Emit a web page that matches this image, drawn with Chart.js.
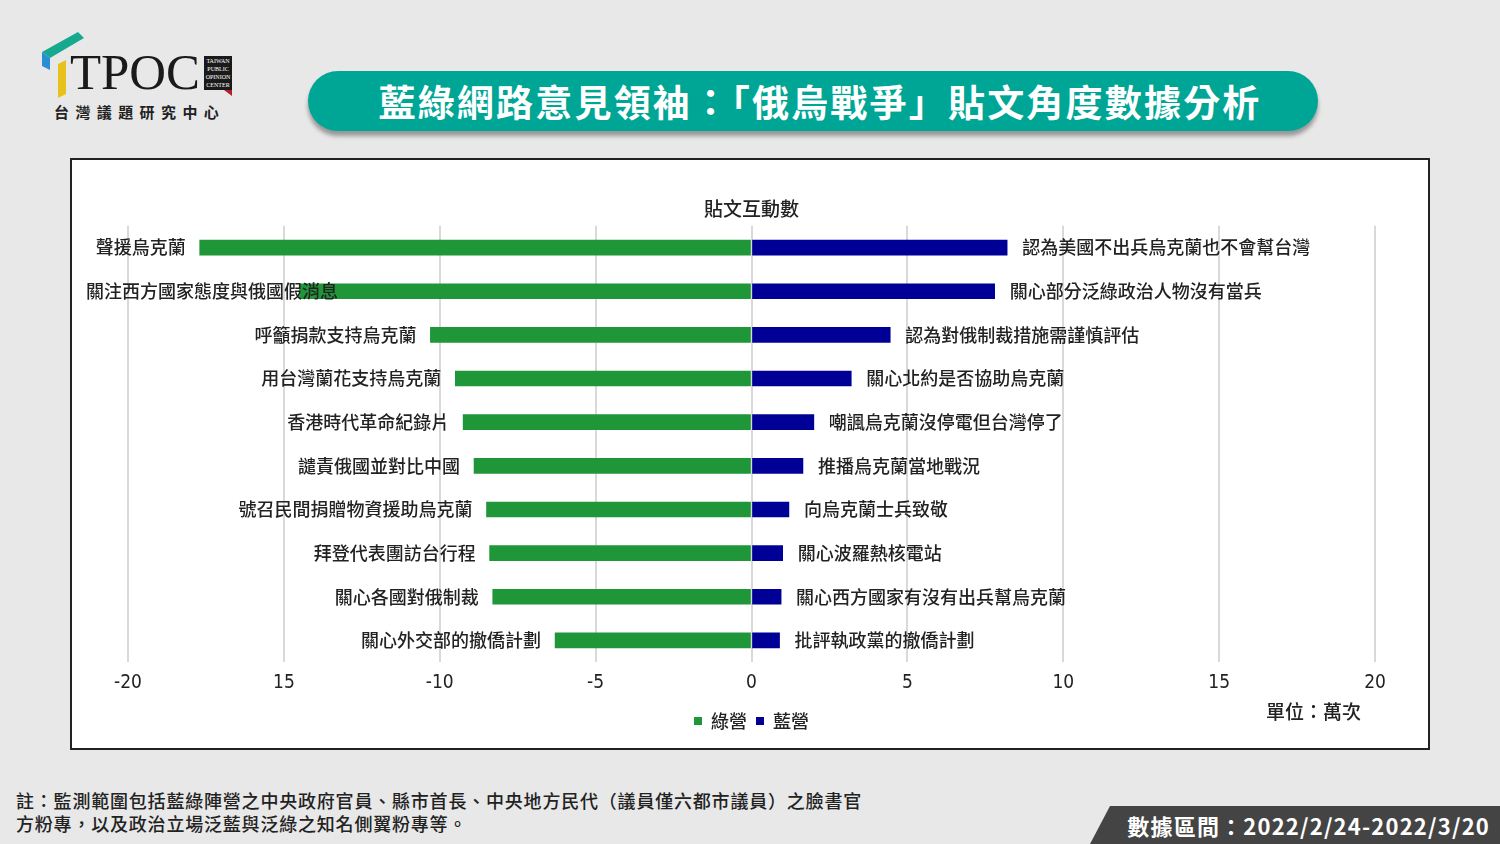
<!DOCTYPE html>
<html>
<head>
<meta charset="utf-8">
<script src="https://cdn.jsdelivr.net/npm/chart.js@4"></script>
<style>
  html, body { margin: 0; padding: 0; }
  body {
    width: 1500px; height: 844px; position: relative; overflow: hidden;
    background: #e8e8e8;
    font-family: "Noto Sans CJK TC", "Noto Sans", sans-serif;
    color: #222;
  }
  .banner {
    position: absolute; left: 308px; top: 71px; width: 1010px; height: 60px;
    background: #00a695; border-radius: 30px;
    box-shadow: 0 5px 4px rgba(0,0,0,0.35);
    color: #fff; font-weight: 700; font-size: 37px; letter-spacing: 2.2px;
    text-align: center; line-height: 60px; padding-left: 14px; box-sizing: border-box;
  }
  .box {
    position: absolute; left: 70px; top: 158px; width: 1356px; height: 588px;
    background: #fff; border: 2px solid #222;
  }
  #chart { position: absolute; left: 0; top: 0; }
  .unit {
    position: absolute; left: 1194px; top: 537px; font-size: 19px; color: #222; font-weight: 500;
  }
  .note {
    position: absolute; left: 16px; top: 789px; font-size: 18px; line-height: 23px;
    font-weight: 500; color: #222; letter-spacing: 0.8px;
  }
  .range {
    position: absolute; right: 0; bottom: 0; width: 410px; height: 38px;
    background: #444; clip-path: polygon(20px 0, 100% 0, 100% 100%, 0 100%);
    color: #fff; font-size: 22px; font-weight: 700; line-height: 38px;
    text-align: right; padding-right: 10px; box-sizing: border-box; letter-spacing: 1.2px;
  }
  .logo { position: absolute; left: 38px; top: 30px; }
</style>
</head>
<body>
<div class="logo">
  <svg width="200" height="100" viewBox="0 0 200 100">
    <polygon points="4,22 40,2 46,8 12,28" fill="#17a98f"/>
    <polygon points="4,22 12,28 12,40 4,36" fill="#2a8ed6"/>
    <polygon points="20,34 28,30 28,64 20,68" fill="#e8c21c"/>
    <text x="32" y="59" font-family="Liberation Serif, DejaVu Serif, serif" font-size="50" fill="#1a1a1a" textLength="130" lengthAdjust="spacingAndGlyphs">TPOC</text>
    <rect x="166" y="26" width="28" height="34" fill="#1a1a1a"/>
    <polygon points="186,60 194,60 194,66" fill="#b3202a"/>
    <text x="180" y="33" font-family="Liberation Serif, serif" font-size="6" fill="#fff" text-anchor="middle">TAIWAN</text>
    <text x="180" y="41" font-family="Liberation Serif, serif" font-size="6" fill="#fff" text-anchor="middle">PUBLIC</text>
    <text x="180" y="49" font-family="Liberation Serif, serif" font-size="6" fill="#fff" text-anchor="middle">OPINION</text>
    <text x="180" y="57" font-family="Liberation Serif, serif" font-size="6" fill="#fff" text-anchor="middle">CENTER</text>
    <text x="16" y="88" font-family="Noto Sans CJK TC, sans-serif" font-size="15" font-weight="700" letter-spacing="6.4" fill="#222">台灣議題研究中心</text>
  </svg>
</div>

<div class="banner">藍綠網路意見領袖：「俄烏戰爭」貼文角度數據分析</div>

<div class="box">
  <canvas id="chart" width="1356" height="588"></canvas>
  <div class="unit">單位：萬次</div>
</div>

<div class="note">註：監測範圍包括藍綠陣營之中央政府官員、縣市首長、中央地方民代（議員僅六都市議員）之臉書官<br>方粉專，以及政治立場泛藍與泛綠之知名側翼粉專等。</div>

<div class="range">數據區間：2022/2/24-2022/3/20</div>

<script>
// 綠營 (left side, shown as negative values)
const greenLabels = ['聲援烏克蘭', '關注西方國家態度與俄國假消息', '呼籲捐款支持烏克蘭', '用台灣蘭花支持烏克蘭',
  '香港時代革命紀錄片', '譴責俄國並對比中國', '號召民間捐贈物資援助烏克蘭', '拜登代表團訪台行程',
  '關心各國對俄制裁', '關心外交部的撤僑計劃'];
const greenValues = [-17.7, -14.5, -10.3, -9.5, -9.25, -8.9, -8.5, -8.4, -8.3, -6.3];

// 藍營 (right side)
const blueLabels = ['認為美國不出兵烏克蘭也不會幫台灣', '關心部分泛綠政治人物沒有當兵', '認為對俄制裁措施需謹慎評估',
  '關心北約是否協助烏克蘭', '嘲諷烏克蘭沒停電但台灣停了', '推播烏克蘭當地戰況', '向烏克蘭士兵致敬',
  '關心波羅熱核電站', '關心西方國家有沒有出兵幫烏克蘭', '批評執政黨的撤僑計劃'];
const blueValues = [8.2, 7.8, 4.45, 3.2, 2.0, 1.65, 1.2, 1.0, 0.95, 0.9];

const seriesNames = ['綠營', '藍營'];
const xTickLabels = ['-20', '15', '-10', '-5', '0', '5', '10', '15', '20'];

const GREEN = '#1f9638';
const BLUE = '#000096';
const FONT = '"Noto Sans CJK TC", "Noto Sans", sans-serif';

// draws the topic text beside the end of each bar
const barLabels = {
  id: 'barLabels',
  afterDatasetsDraw(chart) {
    const ctx = chart.ctx;
    ctx.save();
    ctx.font = '500 18px ' + FONT;
    ctx.fillStyle = '#222';
    ctx.textBaseline = 'middle';
    ctx.textAlign = 'left';
    const texts = [greenLabels, blueLabels];
    chart.data.datasets.forEach((ds, di) => {
      const meta = chart.getDatasetMeta(di);
      meta.data.forEach((bar, i) => {
        const t = texts[di][i];
        if (di === 0) {
          const w = ctx.measureText(t).width;
          let left = bar.x - 14 - w;
          if (left < 14) left = 14; // keep inside the frame
          ctx.fillText(t, left, bar.y);
        } else {
          ctx.fillText(t, bar.x + 15, bar.y);
        }
      });
    });
    ctx.restore();
  }
};

new Chart(document.getElementById('chart').getContext('2d'), {
  type: 'bar',
  data: {
    labels: greenLabels,
    datasets: [
      { label: seriesNames[0], data: greenValues, backgroundColor: GREEN, barThickness: 15 },
      { label: seriesNames[1], data: blueValues, backgroundColor: BLUE, barThickness: 15 }
    ]
  },
  options: {
    indexAxis: 'y',
    responsive: false,
    devicePixelRatio: 1,
    animation: false,
    layout: { padding: { left: 56, right: 53, top: 0, bottom: 8 } },
    scales: {
      x: {
        stacked: true,
        min: -20,
        max: 20,
        ticks: {
          stepSize: 5,
          padding: 9,
          color: '#222',
          font: { size: 19, family: '"Liberation Sans Narrow", "DejaVu Sans Condensed", "Liberation Sans", sans-serif' },
          callback: (v) => xTickLabels[(v + 20) / 5]
        },
        grid: { color: '#d9d9d9', lineWidth: 2, drawTicks: false },
        border: { display: false }
      },
      y: {
        stacked: true,
        display: false
      }
    },
    plugins: {
      title: {
        display: true,
        text: '貼文互動數',
        color: '#222',
        font: { size: 19, family: FONT, weight: '500' },
        padding: { top: 37, bottom: 6 }
      },
      legend: {
        position: 'bottom',
        labels: {
          boxWidth: 8,
          boxHeight: 8,
          padding: 9,
          color: '#222',
          font: { size: 18, family: FONT, weight: '500' }
        }
      },
      tooltip: { enabled: false }
    }
  },
  plugins: [barLabels]
});
</script>
</body>
</html>
